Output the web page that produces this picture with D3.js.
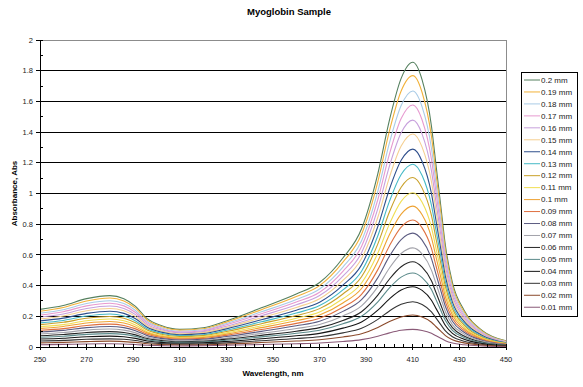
<!DOCTYPE html>
<html>
<head>
<meta charset="utf-8">
<script src="https://cdn.jsdelivr.net/npm/d3@7"></script>
<style>
    body { margin: 0; background: #fff; }
    text { font-family: Arial, "Liberation Sans", sans-serif; }
</style>
</head>
<body>
<svg id="chart" width="583" height="387"></svg>
<script>
// wavelength (nm) of each reading
const wavelengths = [250, 260, 270, 280, 286, 291, 296, 302, 310, 320, 330, 345, 360, 370, 380, 388, 395, 400, 405, 410, 414, 418, 420, 422, 424, 427, 432, 440, 450];

// absorbance per path length
const abs020 = [0.245, 0.270, 0.315, 0.335, 0.315, 0.265, 0.185, 0.140, 0.115, 0.125, 0.170, 0.255, 0.345, 0.420, 0.580, 0.770, 1.130, 1.480, 1.750, 1.855, 1.740, 1.440, 1.180, 0.920, 0.660, 0.420, 0.240, 0.105, 0.040];
const abs019 = [0.233, 0.257, 0.300, 0.319, 0.300, 0.253, 0.176, 0.133, 0.110, 0.119, 0.162, 0.243, 0.329, 0.400, 0.553, 0.734, 1.077, 1.410, 1.668, 1.768, 1.658, 1.372, 1.125, 0.877, 0.629, 0.400, 0.229, 0.100, 0.038];
const abs018 = [0.220, 0.243, 0.283, 0.301, 0.283, 0.238, 0.166, 0.126, 0.103, 0.112, 0.153, 0.229, 0.310, 0.378, 0.521, 0.692, 1.016, 1.331, 1.573, 1.668, 1.564, 1.295, 1.061, 0.827, 0.593, 0.378, 0.216, 0.094, 0.036];
const abs017 = [0.208, 0.230, 0.268, 0.285, 0.268, 0.225, 0.157, 0.119, 0.098, 0.106, 0.145, 0.217, 0.293, 0.357, 0.493, 0.655, 0.961, 1.258, 1.488, 1.577, 1.479, 1.224, 1.003, 0.782, 0.561, 0.357, 0.204, 0.089, 0.034];
const abs016 = [0.195, 0.215, 0.251, 0.267, 0.251, 0.211, 0.147, 0.112, 0.092, 0.100, 0.135, 0.203, 0.275, 0.335, 0.462, 0.614, 0.901, 1.180, 1.395, 1.478, 1.387, 1.148, 0.940, 0.733, 0.526, 0.335, 0.191, 0.084, 0.032];
const abs015 = [0.183, 0.202, 0.236, 0.251, 0.236, 0.198, 0.138, 0.105, 0.086, 0.094, 0.127, 0.191, 0.258, 0.314, 0.434, 0.576, 0.845, 1.107, 1.309, 1.388, 1.302, 1.077, 0.883, 0.688, 0.494, 0.314, 0.180, 0.079, 0.030];
const abs014 = [0.170, 0.188, 0.219, 0.233, 0.219, 0.184, 0.129, 0.097, 0.080, 0.087, 0.118, 0.177, 0.240, 0.292, 0.403, 0.535, 0.785, 1.029, 1.216, 1.289, 1.209, 1.001, 0.820, 0.639, 0.459, 0.292, 0.167, 0.073, 0.028];
const abs013 = [0.157, 0.173, 0.202, 0.215, 0.202, 0.170, 0.119, 0.090, 0.074, 0.080, 0.109, 0.164, 0.221, 0.270, 0.372, 0.494, 0.725, 0.950, 1.124, 1.191, 1.117, 0.924, 0.758, 0.591, 0.424, 0.270, 0.154, 0.067, 0.026];
const abs012 = [0.146, 0.161, 0.187, 0.199, 0.187, 0.158, 0.110, 0.083, 0.068, 0.074, 0.101, 0.152, 0.205, 0.250, 0.345, 0.458, 0.672, 0.881, 1.041, 1.104, 1.035, 0.857, 0.702, 0.547, 0.393, 0.250, 0.143, 0.062, 0.024];
const abs011 = [0.133, 0.146, 0.171, 0.182, 0.171, 0.144, 0.100, 0.076, 0.062, 0.068, 0.092, 0.138, 0.187, 0.228, 0.314, 0.417, 0.612, 0.802, 0.949, 1.005, 0.943, 0.780, 0.640, 0.499, 0.358, 0.228, 0.130, 0.057, 0.022];
const abs010 = [0.121, 0.134, 0.156, 0.166, 0.156, 0.131, 0.092, 0.069, 0.057, 0.062, 0.084, 0.126, 0.171, 0.208, 0.287, 0.381, 0.559, 0.733, 0.866, 0.918, 0.861, 0.713, 0.584, 0.455, 0.327, 0.208, 0.119, 0.052, 0.020];
const abs009 = [0.109, 0.120, 0.140, 0.149, 0.140, 0.118, 0.083, 0.062, 0.051, 0.056, 0.076, 0.114, 0.154, 0.187, 0.259, 0.343, 0.504, 0.660, 0.781, 0.827, 0.776, 0.642, 0.526, 0.410, 0.294, 0.187, 0.107, 0.047, 0.018];
const abs008 = [0.098, 0.108, 0.126, 0.134, 0.126, 0.106, 0.074, 0.056, 0.046, 0.050, 0.068, 0.102, 0.138, 0.168, 0.232, 0.308, 0.452, 0.592, 0.700, 0.742, 0.696, 0.576, 0.472, 0.368, 0.264, 0.168, 0.096, 0.042, 0.016];
const abs007 = [0.085, 0.094, 0.110, 0.117, 0.110, 0.092, 0.064, 0.049, 0.040, 0.044, 0.059, 0.089, 0.120, 0.146, 0.202, 0.268, 0.393, 0.515, 0.609, 0.646, 0.606, 0.501, 0.411, 0.320, 0.230, 0.146, 0.084, 0.037, 0.014];
const abs006 = [0.073, 0.081, 0.094, 0.100, 0.094, 0.079, 0.055, 0.042, 0.034, 0.037, 0.051, 0.076, 0.103, 0.126, 0.173, 0.230, 0.338, 0.443, 0.523, 0.555, 0.520, 0.431, 0.353, 0.275, 0.197, 0.126, 0.072, 0.031, 0.012];
const abs005 = [0.064, 0.070, 0.082, 0.087, 0.082, 0.069, 0.048, 0.036, 0.030, 0.033, 0.044, 0.066, 0.090, 0.109, 0.151, 0.200, 0.294, 0.385, 0.455, 0.482, 0.452, 0.374, 0.307, 0.239, 0.172, 0.109, 0.062, 0.027, 0.010];
const abs004 = [0.052, 0.057, 0.067, 0.071, 0.067, 0.056, 0.039, 0.030, 0.024, 0.027, 0.036, 0.054, 0.073, 0.089, 0.123, 0.163, 0.240, 0.314, 0.371, 0.393, 0.369, 0.305, 0.250, 0.195, 0.140, 0.089, 0.051, 0.022, 0.008];
const abs003 = [0.039, 0.043, 0.050, 0.053, 0.050, 0.042, 0.029, 0.022, 0.018, 0.020, 0.027, 0.041, 0.055, 0.067, 0.092, 0.122, 0.180, 0.235, 0.278, 0.295, 0.277, 0.229, 0.188, 0.146, 0.105, 0.067, 0.038, 0.017, 0.006];
const abs002 = [0.027, 0.030, 0.035, 0.038, 0.035, 0.030, 0.021, 0.016, 0.013, 0.014, 0.019, 0.029, 0.039, 0.047, 0.065, 0.086, 0.127, 0.166, 0.196, 0.208, 0.195, 0.161, 0.132, 0.103, 0.074, 0.047, 0.027, 0.012, 0.004];
const abs001 = [0.015, 0.017, 0.020, 0.021, 0.020, 0.016, 0.011, 0.009, 0.007, 0.008, 0.011, 0.016, 0.021, 0.026, 0.036, 0.048, 0.070, 0.092, 0.109, 0.115, 0.108, 0.089, 0.073, 0.057, 0.041, 0.026, 0.015, 0.007, 0.002];

const seriesNames = ["0.2 mm", "0.19 mm", "0.18 mm", "0.17 mm", "0.16 mm", "0.15 mm", "0.14 mm", "0.13 mm", "0.12 mm", "0.11 mm",
    "0.1 mm", "0.09 mm", "0.08 mm", "0.07 mm", "0.06 mm", "0.05 mm", "0.04 mm", "0.03 mm", "0.02 mm", "0.01 mm"];
const seriesValues = [abs020, abs019, abs018, abs017, abs016, abs015, abs014, abs013, abs012, abs011,
    abs010, abs009, abs008, abs007, abs006, abs005, abs004, abs003, abs002, abs001];
const seriesColors = ["#55805f", "#f2b23a", "#a9cbe6", "#e79ad0", "#c7a0dc", "#f5cf90", "#2f4f8c", "#45b9c6", "#c9a12a", "#f0de52",
    "#eea232", "#df7040", "#5c5c82", "#a2a2aa", "#252525", "#5b8a8a", "#151515", "#353535", "#8b4a2b", "#8a5a78"];

const xTicks = [250, 270, 290, 310, 330, 350, 370, 390, 410, 430, 450];
const yTicks = [0, 0.2, 0.4, 0.6, 0.8, 1, 1.2, 1.4, 1.6, 1.8, 2];

const plot = {left: 40, right: 506, top: 40, bottom: 347};

function drawChart() {
    const svg = d3.select("#chart");
    svg.append("rect").attr("width", 583).attr("height", 387).attr("fill", "#fff");

    const x = d3.scaleLinear().domain([250, 450]).range([plot.left, plot.right]);
    const y = d3.scaleLinear().domain([0, 2]).range([plot.bottom, plot.top]);

    // grid lines
    svg.append("g").selectAll("line")
        .data(yTicks.filter(v => v > 0 && v < 2))
        .enter().append("line")
        .attr("x1", plot.left).attr("x2", plot.right)
        .attr("y1", d => y(d)).attr("y2", d => y(d))
        .attr("stroke", "#000").attr("stroke-width", 1)
        .attr("shape-rendering", "crispEdges");

    // gray frame top + right
    svg.append("path")
        .attr("d", "M" + plot.left + "," + y(2) + "H" + plot.right + "V" + plot.bottom)
        .attr("fill", "none").attr("stroke", "#8c8c8c")
        .attr("shape-rendering", "crispEdges");

    svg.append("clipPath").attr("id", "clip")
        .append("rect")
        .attr("x", plot.left).attr("y", plot.top)
        .attr("width", plot.right - plot.left).attr("height", plot.bottom - plot.top);

    const line = d3.line()
        .x((d, i) => x(wavelengths[i]))
        .y(d => y(d))
        .curve(d3.curveMonotoneX);

    svg.append("g").attr("clip-path", "url(#clip)")
        .selectAll("path")
        .data(seriesValues)
        .enter().append("path")
        .attr("d", d => line(d))
        .attr("fill", "none")
        .attr("stroke", (d, i) => seriesColors[i])
        .attr("stroke-width", 1.1);

    drawAxes(svg, x, y);
    drawLegend(svg);

    svg.append("text")
        .attr("x", 289).attr("y", 15)
        .attr("text-anchor", "middle")
        .style("font-size", "9.5px").style("font-weight", "bold")
        .text("Myoglobin Sample");
}

function drawAxes(svg, x, y) {
    const axes = svg.append("g")
        .attr("stroke", "#000")
        .attr("shape-rendering", "crispEdges");

    axes.append("line")
        .attr("x1", plot.left).attr("x2", plot.left)
        .attr("y1", plot.top).attr("y2", plot.bottom);
    axes.append("line")
        .attr("x1", plot.left).attr("x2", plot.right)
        .attr("y1", plot.bottom).attr("y2", plot.bottom);

    // minor ticks, inside
    axes.selectAll(".ymin")
        .data(d3.range(0.1, 2, 0.2))
        .enter().append("line")
        .attr("x1", plot.left).attr("x2", plot.left + 3)
        .attr("y1", d => y(d)).attr("y2", d => y(d));
    axes.selectAll(".xmin")
        .data(d3.range(254, 450, 4).filter(v => (v - 250) % 20 !== 0))
        .enter().append("line")
        .attr("x1", d => x(d)).attr("x2", d => x(d))
        .attr("y1", plot.bottom - 3).attr("y2", plot.bottom);

    // major ticks, crossing
    axes.selectAll(".ymaj")
        .data(yTicks)
        .enter().append("line")
        .attr("x1", plot.left - 4).attr("x2", plot.left + 3)
        .attr("y1", d => y(d)).attr("y2", d => y(d));
    axes.selectAll(".xmaj")
        .data(xTicks)
        .enter().append("line")
        .attr("x1", d => x(d)).attr("x2", d => x(d))
        .attr("y1", plot.bottom - 3).attr("y2", plot.bottom + 3);

    svg.append("g").selectAll("text")
        .data(yTicks)
        .enter().append("text")
        .attr("x", plot.left - 7).attr("y", d => y(d))
        .attr("dy", "0.35em")
        .attr("text-anchor", "end")
        .attr("fill", "#222")
        .style("font-size", "7.5px")
        .text(d => +d.toFixed(1));

    svg.append("g").selectAll("text")
        .data(xTicks)
        .enter().append("text")
        .attr("x", d => x(d)).attr("y", 362)
        .attr("text-anchor", "middle")
        .attr("fill", "#222")
        .style("font-size", "7.5px")
        .text(d => d);

    svg.append("text")
        .attr("x", (plot.left + plot.right) / 2).attr("y", 376)
        .attr("text-anchor", "middle")
        .style("font-size", "8px").style("font-weight", "bold")
        .text("Wavelength, nm");

    svg.append("text")
        .attr("transform", "translate(17," + ((plot.top + plot.bottom) / 2) + ") rotate(-90)")
        .attr("text-anchor", "middle")
        .style("font-size", "8px").style("font-weight", "bold")
        .text("Absorbance, Abs");
}

function drawLegend(svg) {
    const box = {x: 521, y: 72, w: 56, h: 244};
    const rowH = 11.96;
    const first = 80;

    svg.append("rect")
        .attr("x", box.x + 0.5).attr("y", box.y + 0.5)
        .attr("width", box.w).attr("height", box.h)
        .attr("fill", "#fff").attr("stroke", "#000");

    const rows = svg.append("g").selectAll("g")
        .data(seriesNames)
        .enter().append("g")
        .attr("transform", (d, i) => "translate(0," + (first + i * rowH) + ")");

    rows.append("line")
        .attr("x1", 524).attr("x2", 540)
        .attr("y1", 0).attr("y2", 0)
        .attr("stroke", (d, i) => seriesColors[i]);

    rows.append("text")
        .attr("x", 541).attr("dy", "0.35em")
        .attr("fill", "#222")
        .style("font-size", "8px")
        .text(d => d);
}

window.onload = function () {
    drawChart();
};
</script>
</body>
</html>
